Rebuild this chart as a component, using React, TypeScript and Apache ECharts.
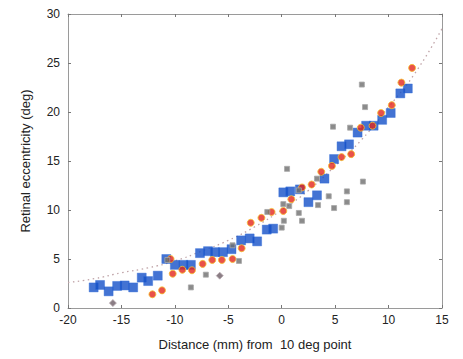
import React, { useEffect, useRef } from "react";
import * as echarts from "echarts";

const xTicks = [-20, -15, -10, -5, 0, 5, 10, 15];
const yTicks = [0, 5, 10, 15, 20, 25, 30];

const blueSquares: number[][] = [
  [-17.6, 2.1], [-17.0, 2.35], [-16.2, 1.7], [-15.4, 2.25], [-14.7, 2.3], [-13.9, 2.1],
  [-13.1, 3.1], [-12.5, 2.75], [-11.6, 3.3], [-10.8, 5.0], [-10.0, 4.4], [-9.2, 4.4],
  [-8.5, 4.4], [-7.65, 5.6], [-6.9, 5.8], [-6.25, 5.7], [-5.5, 5.7], [-4.7, 6.0],
  [-3.8, 6.9], [-3.0, 7.1], [-2.3, 6.8], [-1.4, 8.0], [-0.8, 8.1], [0.15, 11.8],
  [0.8, 11.9], [1.7, 12.1], [2.5, 10.8], [3.3, 11.5], [4.0, 13.2], [4.9, 15.2],
  [5.6, 16.5], [6.3, 16.7], [7.1, 17.9], [7.9, 18.6], [8.6, 18.6], [9.4, 19.2],
  [10.2, 19.9], [11.1, 21.9], [11.8, 22.4],
];

const redDots: number[][] = [
  [-12.1, 1.4], [-11.2, 1.8], [-10.4, 5.0], [-10.2, 3.5], [-9.3, 3.9], [-8.4, 3.85],
  [-7.4, 4.5], [-6.5, 4.9], [-5.6, 4.9], [-4.6, 5.0], [-3.75, 6.1], [-2.9, 8.7],
  [-1.9, 9.2], [-0.95, 9.8], [0.15, 9.9], [0.9, 11.1], [1.9, 12.3], [2.8, 12.6],
  [3.7, 13.9], [4.7, 14.5], [5.6, 15.4], [6.5, 15.7], [7.4, 18.4], [8.5, 18.6],
  [9.3, 19.9], [10.3, 20.7], [11.2, 23.0], [12.2, 24.5],
];

const graySquares: number[][] = [
  [-10.7, 4.9], [-8.5, 2.1], [-7.1, 3.4], [-4.6, 6.4], [-4.0, 4.8], [-1.35, 9.8],
  [0.0, 8.2], [0.2, 8.9], [0.15, 10.6], [0.7, 10.4], [0.5, 14.2], [1.6, 12.0],
  [1.6, 9.7], [1.9, 8.9], [3.3, 13.2], [3.4, 10.5], [4.4, 11.4], [4.9, 10.2],
  [6.1, 11.9], [6.1, 10.8], [7.6, 12.9], [4.8, 18.5], [6.4, 18.4], [7.5, 22.8],
  [7.8, 20.5],
];

const grayDiamonds: number[][] = [
  [-15.8, 0.5], [-5.8, 3.3],
];

const curvePoints: number[][] = [
  [-20, 2.6], [-17.5, 3.0], [-15, 3.6], [-12.5, 4.1], [-10, 4.8], [-7.5, 5.8],
  [-5, 6.9], [-2.5, 8.3], [0, 10.0], [2.5, 12.0], [5, 14.5], [7.5, 17.2],
  [10, 20.5], [12.5, 24.0], [15, 28.5],
];

const FONT = "Liberation Sans, Arial, Helvetica, sans-serif";

export default function App() {
  const ref = useRef<HTMLDivElement>(null);
  useEffect(() => {
    if (!ref.current) return;
    const chart = echarts.init(ref.current, null, { renderer: "svg" });
    const axisLine = { show: true, onZero: false, lineStyle: { color: "#9a9a9a", width: 1 } };
    const axisTick = { show: true, inside: true, length: 3, lineStyle: { color: "#777" } };
    chart.setOption({
      animation: false,
      backgroundColor: "#fff",
      grid: { left: 68, right: 21, top: 14, bottom: 51 },
      xAxis: [
        {
          type: "value", min: xTicks[0], max: xTicks[xTicks.length - 1], interval: 5,
          axisLine, axisTick, splitLine: { show: false },
          axisLabel: { color: "#222", fontFamily: FONT, fontSize: 12, margin: 6 },
          name: "Distance (mm) from  10 deg point",
          nameLocation: "middle", nameGap: 30,
          nameTextStyle: { color: "#222", fontFamily: FONT, fontSize: 13 },
        },
        {
          type: "value", min: xTicks[0], max: xTicks[xTicks.length - 1], interval: 5, position: "top",
          axisLine, axisTick, axisLabel: { show: false }, splitLine: { show: false },
        },
      ],
      yAxis: [
        {
          type: "value", min: yTicks[0], max: yTicks[yTicks.length - 1], interval: 5,
          axisLine, axisTick, splitLine: { show: false },
          axisLabel: { color: "#222", fontFamily: FONT, fontSize: 12, margin: 8 },
          name: "Retinal eccentricity (deg)",
          nameLocation: "middle", nameGap: 36,
          nameTextStyle: { color: "#222", fontFamily: FONT, fontSize: 13 },
        },
        {
          type: "value", min: yTicks[0], max: yTicks[yTicks.length - 1], interval: 5, position: "right",
          axisLine, axisTick, axisLabel: { show: false }, splitLine: { show: false },
        },
      ],
      series: [
        {
          type: "line", data: curvePoints, smooth: true, symbol: "none",
          lineStyle: { color: "#c0a4a8", width: 1.3, type: [1.5, 3.5] },
          z: 1,
        },
        {
          type: "scatter", data: blueSquares, symbol: "rect", symbolSize: 9,
          itemStyle: { color: "#1450c8", borderColor: "#2e6ad8", borderWidth: 0.5 },
          z: 2,
        },
        {
          type: "scatter", data: redDots, symbol: "circle", symbolSize: 7,
          itemStyle: { color: "#e4261c", borderColor: "#f6c230", borderWidth: 1 },
          z: 3,
        },
        {
          type: "scatter", data: graySquares, symbol: "rect", symbolSize: 5,
          itemStyle: { color: "#6e6e6e", borderColor: "#a8a8a8", borderWidth: 1 },
          z: 4,
        },
        {
          type: "scatter", data: grayDiamonds, symbol: "diamond", symbolSize: 7,
          itemStyle: { color: "#6e5e66", borderColor: "#b8aab0", borderWidth: 1 },
          z: 4,
        },
      ],
    });
    return () => chart.dispose();
  }, []);
  return <div ref={ref} style={{ width: 463, height: 359, position: "absolute", left: 0, top: 0 }} />;
}
